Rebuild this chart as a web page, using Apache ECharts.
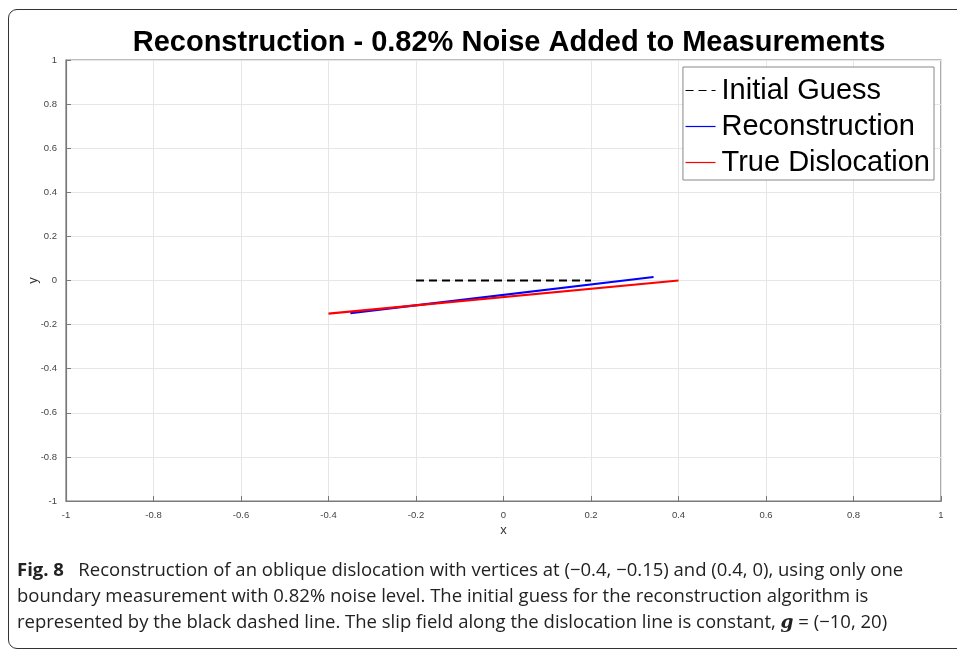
<!DOCTYPE html>
<html>
<head>
<meta charset="utf-8">
<title>Reconstruction - 0.82% Noise</title>
<script src="https://cdn.jsdelivr.net/npm/echarts@6/dist/echarts.min.js"></script>
<style>
    html, body { margin: 0; padding: 0; background: #fff; overflow: hidden; }
    #wrap { position: relative; width: 957px; height: 651px; }
    #frame {
        position: absolute; left: 8px; top: 9px; width: 1000px; height: 638px;
        border: 1.5px solid #333; border-radius: 9px;
    }
    #main { position: absolute; left: 0; top: 0; width: 957px; height: 651px; }
    #caption {
        position: absolute; left: 17px; top: 556px;
        font-family: "Open Sans", "Noto Sans", sans-serif; font-size: 18.5px;
        line-height: 26px; color: #222; white-space: nowrap;
    }
    #caption .g { font-family: "DejaVu Serif", serif; font-weight: bold; font-style: italic; }
</style>
</head>
<body>
<div id="wrap">
    <div id="frame"></div>
    <div id="main"></div>
    <div id="caption">
        <b>Fig. 8</b>&nbsp;&nbsp; Reconstruction of an oblique dislocation with vertices at (−0.4, −0.15) and (0.4, 0), using only one<br>
        boundary measurement with 0.82% noise level. The initial guess for the reconstruction algorithm is<br>
        represented by the black dashed line. The slip field along the dislocation line is constant, <span class="g">g</span> = (−10, 20)
    </div>
</div>
<script>
// 数据
var guessX = [-0.2, 0.2];
var guessY = [0, 0];
var reconX = [-0.35, 0.343];
var reconY = [-0.148, 0.016];
var trueX = [-0.4, 0.4];
var trueY = [-0.15, 0];

function pairs(xs, ys) {
    return xs.map(function (x, i) { return [x, ys[i]]; });
}

var myChart = echarts.init(document.getElementById('main'));

var axisCommon = {
    type: 'value',
    min: -1,
    max: 1,
    interval: 0.2,
    nameMoveOverlap: false,
    axisLine: { show: true, onZero: false, lineStyle: { color: '#7a7a7a', width: 1.2 } },
    axisTick: { show: true, inside: true, length: 5, lineStyle: { color: '#7a7a7a' } },
    axisLabel: { color: '#444', fontSize: 9.5, fontFamily: 'Liberation Sans', margin: 9 },
    splitLine: { show: true, lineStyle: { color: '#e6e6e6', width: 1 } },
    nameTextStyle: { color: '#333', fontSize: 13, fontFamily: 'Liberation Sans' }
};

var option = {
    animation: false,
    // 标题居中于绘图区
    title: {
        text: 'Reconstruction - 0.82% Noise Added to Measurements',
        left: 504,
        textAlign: 'center',
        top: 23,
        textStyle: { fontSize: 29, fontWeight: 'bold', color: '#000', fontFamily: 'Liberation Sans' }
    },
    grid: {
        left: 66, right: 16, top: 60, bottom: 150,
        show: true, borderColor: '#7a7a7a', borderWidth: 1.2
    },
    legend: {
        orient: 'vertical',
        right: 23,
        top: 67,
        backgroundColor: '#fff',
        borderColor: '#888',
        borderWidth: 1,
        padding: [9, 4, 3, 2],
        itemGap: 7,
        itemWidth: 30,
        itemHeight: 29,
        itemStyle: { opacity: 0 },
        lineStyle: { width: 1.2 },
        textStyle: { fontSize: 29, color: '#000', fontFamily: 'Liberation Sans', padding: [0, 0, 0, 1] },
        data: ['Initial Guess', 'Reconstruction', 'True Dislocation']
    },
    xAxis: Object.assign({}, axisCommon, { name: 'x', nameLocation: 'middle', nameGap: 23 }),
    yAxis: Object.assign({}, axisCommon, { name: 'y', nameLocation: 'middle', nameGap: 26 }),
    series: [{
        name: 'Initial Guess',
        type: 'line',
        symbol: 'none',
        color: '#000',
        lineStyle: { color: '#000', width: 2, type: [8, 5] },
        data: pairs(guessX, guessY)
    }, {
        name: 'Reconstruction',
        type: 'line',
        symbol: 'none',
        color: '#0000ff',
        lineStyle: { color: '#0000ff', width: 2.2 },
        data: pairs(reconX, reconY)
    }, {
        name: 'True Dislocation',
        type: 'line',
        symbol: 'none',
        color: '#ff0000',
        lineStyle: { color: '#ff0000', width: 2.2 },
        data: pairs(trueX, trueY)
    }]
};

myChart.setOption(option);
</script>
</body>
</html>
